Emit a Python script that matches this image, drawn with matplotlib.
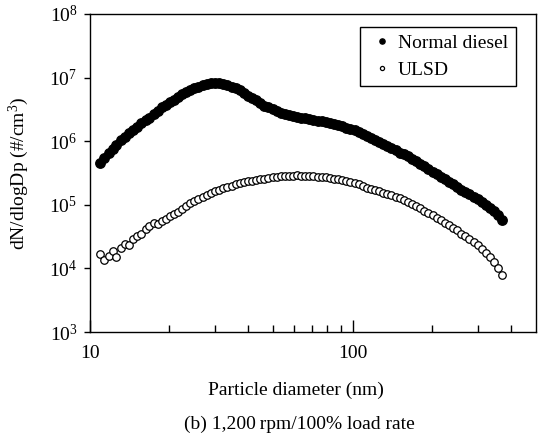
import math
import matplotlib
matplotlib.use("Agg")
import matplotlib.pyplot as plt
from matplotlib.ticker import FixedLocator, NullLocator, FuncFormatter

plt.rcParams['font.family'] = ['Liberation Serif', 'DejaVu Serif']
plt.rcParams['mathtext.fontset'] = 'custom'
plt.rcParams['mathtext.rm'] = 'Liberation Serif'
plt.rcParams['mathtext.it'] = 'Liberation Serif:italic'

# particle diameter (nm), SMPS channels
dp = [10.9, 11.3, 11.8, 12.2, 12.6, 13.1, 13.6, 14.1, 14.6, 15.1,
      15.7, 16.3, 16.8, 17.5, 18.1, 18.8, 19.5, 20.2, 20.9, 21.7,
      22.5, 23.3, 24.1, 25.0, 25.9, 26.9, 27.9, 28.9, 30.0, 31.1,
      32.2, 33.4, 34.6, 35.9, 37.2, 38.5, 40.0, 41.4, 42.9, 44.5,
      46.1, 47.8, 49.6, 51.4, 53.3, 55.2, 57.3, 59.4, 61.5, 63.8,
      66.1, 68.5, 71.0, 73.7, 76.4, 79.1, 82.0, 85.1, 88.2, 91.4,
      94.7, 98.2, 101.8, 105.5, 109.4, 113.4, 117.6, 121.9, 126.3, 131.0,
      135.8, 140.7, 145.9, 151.2, 156.8, 162.5, 168.5, 174.7, 181.1, 187.7,
      194.6, 201.7, 209.1, 216.7, 224.7, 232.9, 241.4, 250.3, 259.5, 269.0,
      278.8, 289.0, 299.6, 310.6, 322.0, 333.8, 346.0, 358.7, 371.8]

# dN/dlogDp (#/cm3)
normal_diesel = [4.6e5, 5.4e5, 6.5e5, 7.6e5, 8.7e5, 1.05e6, 1.17e6, 1.32e6, 1.48e6, 1.66e6,
                 1.95e6, 2.14e6, 2.34e6, 2.69e6, 3.0e6, 3.4e6, 3.7e6, 4.1e6, 4.5e6, 5.0e6,
                 5.5e6, 5.9e6, 6.3e6, 6.8e6, 7.2e6, 7.6e6, 7.9e6, 8.1e6, 8.1e6, 8.1e6,
                 7.9e6, 7.6e6, 7.2e6, 6.8e6, 6.3e6, 5.8e6, 5.2e6, 4.8e6, 4.4e6, 4.0e6,
                 3.6e6, 3.4e6, 3.2e6, 2.95e6, 2.8e6, 2.7e6, 2.6e6, 2.45e6, 2.4e6, 2.35e6,
                 2.3e6, 2.24e6, 2.14e6, 2.09e6, 2.04e6, 2.0e6, 1.9e6, 1.86e6, 1.78e6, 1.7e6,
                 1.62e6, 1.55e6, 1.48e6, 1.38e6, 1.29e6, 1.2e6, 1.12e6, 1.05e6, 9.8e5, 8.9e5,
                 8.3e5, 7.8e5, 7.2e5, 6.6e5, 6.2e5, 5.8e5, 5.2e5, 4.8e5, 4.4e5, 4.0e5,
                 3.6e5, 3.3e5, 3.0e5, 2.75e5, 2.5e5, 2.3e5, 2.1e5, 1.9e5, 1.74e5, 1.58e5,
                 1.48e5, 1.35e5, 1.23e5, 1.12e5, 1.0e5, 8.9e4, 7.9e4, 6.8e4, 5.8e4]

ulsd = [1.66e4, 1.35e4, 1.58e4, 1.9e4, 1.5e4, 2.1e4, 2.4e4, 2.3e4, 2.95e4, 3.2e4,
        3.5e4, 4.1e4, 4.6e4, 5.2e4, 5.0e4, 5.5e4, 6.0e4, 6.6e4, 7.1e4, 7.6e4,
        8.7e4, 9.5e4, 1.05e5, 1.15e5, 1.23e5, 1.32e5, 1.45e5, 1.55e5, 1.66e5, 1.74e5,
        1.82e5, 1.9e5, 2.0e5, 2.1e5, 2.2e5, 2.26e5, 2.34e5, 2.4e5, 2.45e5, 2.5e5,
        2.57e5, 2.63e5, 2.7e5, 2.75e5, 2.8e5, 2.85e5, 2.88e5, 2.88e5, 2.9e5, 2.88e5,
        2.88e5, 2.85e5, 2.8e5, 2.78e5, 2.75e5, 2.7e5, 2.63e5, 2.57e5, 2.5e5, 2.43e5,
        2.34e5, 2.3e5, 2.2e5, 2.1e5, 2.0e5, 1.86e5, 1.78e5, 1.7e5, 1.62e5, 1.55e5,
        1.48e5, 1.41e5, 1.35e5, 1.26e5, 1.17e5, 1.1e5, 1.02e5, 9.5e4, 8.9e4, 8.1e4,
        7.4e4, 6.8e4, 6.2e4, 5.8e4, 5.2e4, 4.8e4, 4.4e4, 4.0e4, 3.5e4, 3.2e4,
        2.9e4, 2.6e4, 2.3e4, 2.0e4, 1.78e4, 1.5e4, 1.26e4, 1.0e4, 7.8e3]

fig = plt.figure(figsize=(5.42, 4.47), dpi=100)
ax = fig.add_axes([0.166, 0.257, 0.823, 0.712])

ax.plot(dp, normal_diesel, 'o', color='black', markersize=6.8, label='Normal diesel')
ax.plot(dp, ulsd, 'o', markerfacecolor='white', markeredgecolor='black',
        markersize=5.4, markeredgewidth=0.9, label='ULSD')

ax.set_xscale('log')
ax.set_yscale('log')
ax.set_xlim(10, 500)
ax.set_ylim(1e3, 1e8)

ax.xaxis.set_major_locator(FixedLocator([10, 100]))
ax.xaxis.set_minor_locator(FixedLocator([20, 30, 40, 50, 60, 70, 80, 90, 200, 300, 400]))
ax.xaxis.set_major_formatter(FuncFormatter(lambda v, p: '%d' % v))
ax.xaxis.set_minor_formatter(FuncFormatter(lambda v, p: ''))
ax.yaxis.set_major_locator(FixedLocator([1e3, 1e4, 1e5, 1e6, 1e7, 1e8]))
ax.yaxis.set_minor_locator(NullLocator())
ax.yaxis.set_major_formatter(FuncFormatter(lambda v, p: r'$10^{%d}$' % round(math.log10(v))))

ax.tick_params(axis='x', which='major', direction='in', length=9, width=1, labelsize=14, pad=9)
ax.tick_params(axis='x', which='minor', direction='in', length=5, width=1)
ax.tick_params(axis='y', which='major', direction='out', length=4, width=1, labelsize=14, pad=5)
for s in ax.spines.values():
    s.set_linewidth(1.0)

leg = ax.legend(loc='upper right', bbox_to_anchor=(0.955, 0.959), borderaxespad=0,
                fontsize=14, frameon=True, fancybox=False, edgecolor='black',
                framealpha=1, markerscale=0.55, handlelength=1.4, handletextpad=0.15,
                labelspacing=0.45, borderpad=0.4)
leg.get_frame().set_linewidth(1.0)

fig.text(19 / 542, 1 - 173 / 447, 'dN/dlogDp (#/cm$^3$)', rotation=90,
         ha='center', va='center', fontsize=14)
fig.text(296 / 542, 1 - 390 / 447, 'Particle diameter (nm)', ha='center', va='center', fontsize=14)
fig.text(299 / 542, 1 - 424 / 447, '(b) 1,200\u2009rpm/100% load rate', ha='center', va='center', fontsize=14)

fig.savefig('out.png', dpi=100)
